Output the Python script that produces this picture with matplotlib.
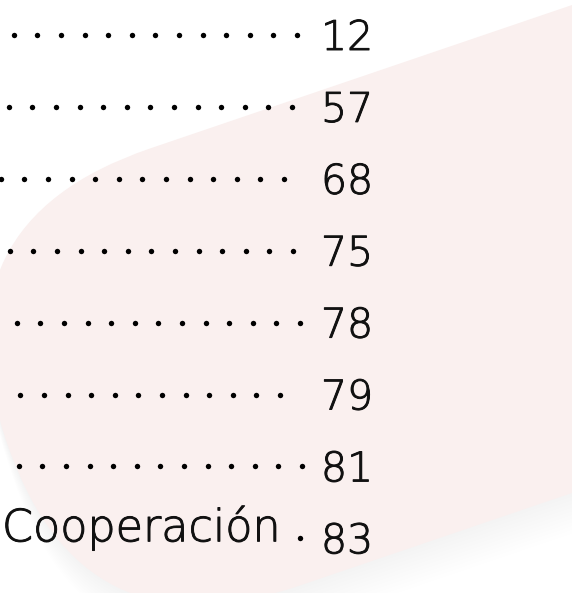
import numpy as np
import matplotlib
matplotlib.use("Agg")
import matplotlib.pyplot as plt
import matplotlib.patheffects as pe
from matplotlib.patches import FancyBboxPatch
from matplotlib.transforms import Affine2D

# ---- data ----
labels = ["", "", "", "", "", "", "", "Cooperación"]
pages = [12, 57, 68, 75, 78, 79, 81, 83]

# ---- layout ----
W, H = 572, 593
row0_baseline = 50
row_step = 71.9
num_x = 321
dot_step = 23.6
leader_end = [297, 292, 284, 293, 300, 280, 302, 300]
leader_len = [13, 13, 13, 13, 13, 12, 13, 1]
pink = "#faf0ef"
ink = "#111111"

fig = plt.figure(figsize=(W / 100, H / 100), dpi=100)
ax = fig.add_axes([0, 0, 1, 1])
ax.set_xlim(0, W)
ax.set_ylim(H, 0)
ax.axis("off")

# rotated band with rounded left end
ang = np.arctan(0.34)
cu, su = np.cos(ang), np.sin(ang)
rot = Affine2D().from_values(cu, -su, su, cu, 0, 0)
t_top = W * su + 5 * cu
t_bot = W * su + 493 * cu
s0 = -136
# soft shadow (mostly below)
for k in range(1, 12):
    sh = FancyBboxPatch((s0 - k * 0.5, t_top + k * 2.0), 1000, (t_bot - t_top) + k * 1.5,
                        boxstyle="round,pad=0,rounding_size=230",
                        facecolor="black", edgecolor="none", alpha=0.0022,
                        transform=rot + ax.transData, zorder=0)
    ax.add_patch(sh)
band = FancyBboxPatch((s0, t_top), 1000, t_bot - t_top,
                      boxstyle="round,pad=0,rounding_size=230",
                      facecolor=pink, edgecolor="none",
                      transform=rot + ax.transData, zorder=1)
ax.add_patch(band)

thick = [pe.withStroke(linewidth=0.7, foreground=ink)]
font = dict(family=["DejaVu Sans"], weight="light", color=ink, path_effects=thick)
for i, (lab, pg) in enumerate(zip(labels, pages)):
    base = row0_baseline + i * row_step
    ax.text(num_x, base, str(pg), ha="left", va="baseline", zorder=3,
            fontsize=29.5, **font)
    xs = leader_end[i] - dot_step * np.arange(leader_len[i])
    ax.scatter(xs, np.full_like(xs, base - 15), s=15, color="black",
               linewidths=0, zorder=3)
    if lab:
        ax.text(2, base - 12, lab, ha="left", va="baseline", zorder=3,
                fontsize=32, **font)

fig.savefig("out.png", dpi=100)
